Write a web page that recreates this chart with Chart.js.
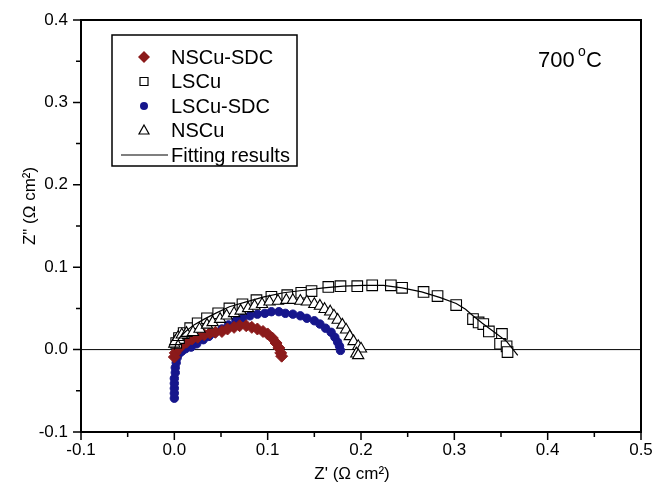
<!DOCTYPE html>
<html>
<head>
<meta charset="utf-8">
<script src="https://cdn.jsdelivr.net/npm/chart.js@4.4.1/dist/chart.umd.min.js"></script>
<style>
  html, body { margin: 0; padding: 0; background: #fff; }
  #wrap { width: 654px; height: 489px; }
</style>
</head>
<body>
<div id="wrap"><canvas id="nyquist"></canvas></div>
<script>
// impedance spectra at 700 C, Z' / Z'' in ohm cm2
const nscuSdcRe = [0.000, 0.001, 0.004, 0.008, 0.013, 0.019, 0.025, 0.032, 0.038, 0.044, 0.051, 0.057,
                   0.064, 0.070, 0.077, 0.083, 0.089, 0.095, 0.100, 0.105, 0.109, 0.112, 0.114, 0.115];
const nscuSdcIm = [-0.009, -0.004, 0.001, 0.005, 0.009, 0.013, 0.015, 0.018, 0.020, 0.021, 0.022, 0.025,
                   0.027, 0.029, 0.029, 0.027, 0.025, 0.022, 0.019, 0.014, 0.008, 0.002, -0.004, -0.008];

const lscuRe = [0.002, 0.005, 0.010, 0.017, 0.025, 0.035, 0.047, 0.059, 0.073, 0.088, 0.104, 0.121,
                0.136, 0.147, 0.165, 0.178, 0.196, 0.212, 0.232, 0.244, 0.267, 0.282, 0.302, 0.320,
                0.326, 0.331, 0.337, 0.351, 0.349, 0.356, 0.357];
const lscuIm = [0.008, 0.014, 0.020, 0.026, 0.032, 0.038, 0.044, 0.050, 0.055, 0.060, 0.064, 0.066,
                0.069, 0.071, 0.076, 0.077, 0.077, 0.078, 0.078, 0.075, 0.070, 0.065, 0.054, 0.037,
                0.033, 0.031, 0.022, 0.019, 0.007, 0.004, -0.003];

const lscuSdcRe = [0.000, 0.000, 0.000, 0.000, 0.000, 0.001, 0.001, 0.002, 0.003, 0.005, 0.008, 0.012,
                   0.018, 0.024, 0.031, 0.037, 0.043, 0.051, 0.058, 0.066, 0.073, 0.081, 0.089, 0.097,
                   0.104, 0.112, 0.119, 0.127, 0.135, 0.142, 0.150, 0.156, 0.162, 0.168, 0.172, 0.175,
                   0.177, 0.178];
const lscuSdcIm = [-0.059, -0.053, -0.047, -0.041, -0.035, -0.028, -0.022, -0.016, -0.010, -0.005, -0.002, 0.001,
                   0.003, 0.007, 0.012, 0.016, 0.020, 0.025, 0.030, 0.035, 0.038, 0.041, 0.043, 0.044,
                   0.046, 0.046, 0.044, 0.043, 0.041, 0.038, 0.035, 0.031, 0.026, 0.021, 0.015, 0.009,
                   0.004, -0.001];

const nscuRe = [0.000, 0.001, 0.004, 0.008, 0.013, 0.020, 0.027, 0.035, 0.041, 0.049, 0.056, 0.064,
                0.071, 0.079, 0.086, 0.094, 0.102, 0.111, 0.120, 0.127, 0.135, 0.142, 0.150, 0.156,
                0.161, 0.167, 0.171, 0.175, 0.180, 0.184, 0.188, 0.192, 0.197, 0.200, 0.195, 0.197];
const nscuIm = [0.007, 0.010, 0.015, 0.018, 0.020, 0.021, 0.025, 0.030, 0.033, 0.037, 0.041, 0.044,
                0.047, 0.050, 0.053, 0.055, 0.058, 0.059, 0.060, 0.060, 0.059, 0.058, 0.055, 0.053,
                0.049, 0.046, 0.041, 0.036, 0.030, 0.024, 0.016, 0.010, 0.004, 0.001, -0.005, -0.007];

// equivalent-circuit fit of the LSCu arc
const fitRe = [0.000, 0.002, 0.006, 0.012, 0.021, 0.032, 0.044, 0.059, 0.077, 0.096, 0.117, 0.139,
               0.160, 0.181, 0.203, 0.224, 0.244, 0.265, 0.285, 0.302, 0.312, 0.320, 0.330, 0.343,
               0.356, 0.368];
const fitIm = [0.000, 0.008, 0.015, 0.022, 0.030, 0.037, 0.044, 0.052, 0.058, 0.064, 0.069, 0.072,
               0.075, 0.077, 0.078, 0.078, 0.075, 0.070, 0.063, 0.056, 0.049, 0.041, 0.032, 0.021,
               0.010, -0.007];

const xTicks = [-0.1, 0.0, 0.1, 0.2, 0.3, 0.4, 0.5];
const yTicks = [-0.1, 0.0, 0.1, 0.2, 0.3, 0.4];

const FONT = "'Liberation Sans', Arial, sans-serif";
const RED = '#8b1a1a';
const BLUE = '#16168c';

function pts(xs, ys) {
    return xs.map((x, i) => ({ x: x, y: ys[i] }));
}

function isMajor(v) {
    return Math.abs(v * 10 - Math.round(v * 10)) < 1e-6;
}

function tickLabel(v) {
    if (!isMajor(v)) return '';
    return (Math.round(v * 10) / 10 + 0).toFixed(1).replace('-0.0', '0.0');
}

const legendItems = [
    { label: 'NSCu-SDC', style: 'diamond', color: RED },
    { label: 'LSCu', style: 'square' },
    { label: 'LSCu-SDC', style: 'circle', color: BLUE },
    { label: 'NSCu', style: 'triangle' },
    { label: 'Fitting results', style: 'line' }
];

function marker(ctx, style, x, y, color) {
    ctx.save();
    ctx.lineWidth = 1.2;
    ctx.strokeStyle = '#000';
    ctx.beginPath();
    if (style === 'diamond') {
        ctx.moveTo(x, y - 6); ctx.lineTo(x + 6, y); ctx.lineTo(x, y + 6); ctx.lineTo(x - 6, y);
        ctx.closePath();
        ctx.fillStyle = color; ctx.fill();
    } else if (style === 'circle') {
        ctx.arc(x, y, 4, 0, Math.PI * 2);
        ctx.fillStyle = color; ctx.fill();
    } else if (style === 'square') {
        ctx.rect(x - 4, y - 4, 8, 8);
        ctx.fillStyle = '#fff'; ctx.fill(); ctx.stroke();
    } else if (style === 'triangle') {
        ctx.moveTo(x, y - 5.5); ctx.lineTo(x + 5, y + 3.5); ctx.lineTo(x - 5, y + 3.5);
        ctx.closePath();
        ctx.fillStyle = '#fff'; ctx.fill(); ctx.stroke();
    } else {
        ctx.moveTo(x - 23, y); ctx.lineTo(x + 24, y);
        ctx.stroke();
    }
    ctx.restore();
}

// frame, outward ticks, zero line, axis titles, legend box and temperature label
const decorations = {
    id: 'decorations',
    beforeDatasetsDraw(chart) {
        const { ctx, chartArea: a, scales } = chart;
        const y0 = scales.y.getPixelForValue(0);
        ctx.save();
        ctx.strokeStyle = '#000';
        ctx.lineWidth = 1;
        ctx.beginPath();
        ctx.moveTo(a.left, y0); ctx.lineTo(a.right, y0);
        ctx.stroke();
        ctx.restore();
    },
    afterDraw(chart) {
        const { ctx, chartArea: a, scales } = chart;
        ctx.save();
        ctx.strokeStyle = '#000';
        ctx.lineWidth = 2;
        ctx.strokeRect(a.left, a.top, a.right - a.left, a.bottom - a.top);

        ctx.lineWidth = 1.5;
        ctx.beginPath();
        scales.x.ticks.forEach(t => {
            const px = scales.x.getPixelForValue(t.value);
            const len = isMajor(t.value) ? 8 : 5;
            ctx.moveTo(px, a.bottom); ctx.lineTo(px, a.bottom + len);
        });
        scales.y.ticks.forEach(t => {
            const py = scales.y.getPixelForValue(t.value);
            const len = isMajor(t.value) ? 8 : 5;
            ctx.moveTo(a.left, py); ctx.lineTo(a.left - len, py);
        });
        ctx.stroke();

        // axis titles
        ctx.fillStyle = '#000';
        ctx.font = '17px ' + FONT;
        ctx.textAlign = 'center';
        ctx.textBaseline = 'middle';
        ctx.fillText("Z' (\u03a9 cm\u00b2)", 352, 474);
        ctx.save();
        ctx.translate(30, 206);
        ctx.rotate(-Math.PI / 2);
        ctx.fillText('Z" (\u03a9 cm\u00b2)', 0, 0);
        ctx.restore();

        // temperature label
        ctx.textAlign = 'left';
        ctx.textBaseline = 'alphabetic';
        ctx.font = '22px ' + FONT;
        ctx.fillText('700', 538, 67);
        ctx.font = '14px ' + FONT;
        ctx.fillText('o', 578, 56);
        ctx.font = '22px ' + FONT;
        ctx.fillText('C', 586, 67);

        // legend
        ctx.lineWidth = 1.5;
        ctx.fillStyle = '#fff';
        ctx.fillRect(112, 35, 185, 131);
        ctx.strokeRect(112, 35, 185, 131);
        ctx.font = '20px ' + FONT;
        ctx.textBaseline = 'middle';
        legendItems.forEach((it, i) => {
            const y = 57 + i * 24.5;
            marker(ctx, it.style, 144, y, it.color);
            ctx.fillStyle = '#000';
            ctx.fillText(it.label, 171, y + 1);
        });
        ctx.restore();
    }
};

const ctx = document.getElementById('nyquist').getContext('2d');
new Chart(ctx, {
    type: 'scatter',
    data: {
        datasets: [
            {
                label: 'Fitting results',
                data: pts(fitRe, fitIm),
                showLine: true,
                borderColor: '#000',
                borderWidth: 1.2,
                pointRadius: 0,
                order: 0
            },
            {
                label: 'NSCu',
                data: pts(nscuRe, nscuIm),
                pointStyle: 'triangle',
                pointRadius: 6.5,
                backgroundColor: '#fff',
                borderColor: '#000',
                borderWidth: 1.1,
                order: 1
            },
            {
                label: 'LSCu',
                data: pts(lscuRe, lscuIm),
                pointStyle: 'rect',
                pointRadius: 7.5,
                backgroundColor: '#fff',
                borderColor: '#000',
                borderWidth: 1.1,
                order: 2
            },
            {
                label: 'NSCu-SDC',
                data: pts(nscuSdcRe, nscuSdcIm),
                pointStyle: 'rectRot',
                pointRadius: 6,
                backgroundColor: RED,
                borderColor: RED,
                borderWidth: 1,
                order: 3
            },
            {
                label: 'LSCu-SDC',
                data: pts(lscuSdcRe, lscuSdcIm),
                pointStyle: 'circle',
                pointRadius: 4.2,
                backgroundColor: BLUE,
                borderColor: BLUE,
                borderWidth: 1,
                order: 4
            }
        ]
    },
    options: {
        responsive: true,
        maintainAspectRatio: false,
        animation: false,
        layout: { padding: { top: 20, right: 13, left: 0, bottom: 0 } },
        plugins: {
            legend: { display: false },
            tooltip: { enabled: false }
        },
        scales: {
            x: {
                type: 'linear',
                min: xTicks[0],
                max: xTicks[xTicks.length - 1],
                afterFit: s => { s.height = 57; s.paddingLeft = 0; s.paddingRight = 0; },
                grid: { display: false, drawTicks: false },
                border: { display: false },
                ticks: {
                    stepSize: 0.05,
                    autoSkip: false,
                    maxRotation: 0,
                    padding: 8,
                    color: '#000',
                    font: { family: FONT, size: 17 },
                    callback: tickLabel
                }
            },
            y: {
                type: 'linear',
                min: yTicks[0],
                max: yTicks[yTicks.length - 1],
                afterFit: s => { s.width = 81; s.paddingTop = 0; s.paddingBottom = 0; },
                grid: { display: false, drawTicks: false },
                border: { display: false },
                ticks: {
                    stepSize: 0.05,
                    autoSkip: false,
                    padding: 13,
                    color: '#000',
                    font: { family: FONT, size: 17 },
                    callback: tickLabel
                }
            }
        }
    },
    plugins: [decorations]
});
</script>
</body>
</html>
